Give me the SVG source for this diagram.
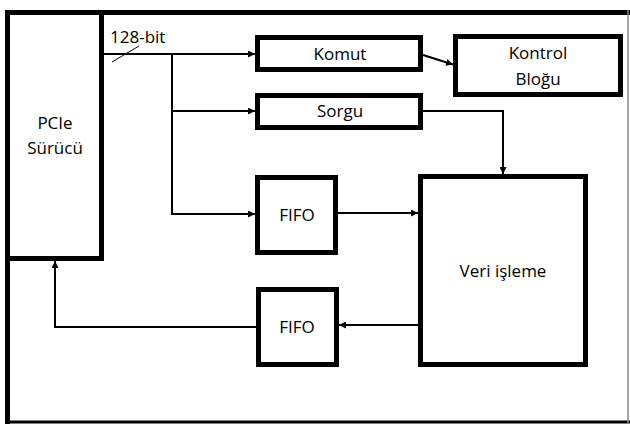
<svg xmlns="http://www.w3.org/2000/svg" width="630" height="425" viewBox="0 0 630 425">
<defs>
<marker id="arr" viewBox="0 0 10 10" refX="10" refY="5" markerWidth="3.5" markerHeight="3.5" orient="auto" markerUnits="strokeWidth">
<path d="M0,0 L10,5 L0,10 z" fill="#000"/>
</marker>
</defs>
<style>
.box{fill:#fff;stroke:#000;stroke-width:5}
.t{font-family:"Open Sans",Lato,sans-serif;font-size:17px;fill:#000;text-anchor:middle}
.c{fill:none;stroke:#000;stroke-width:2}
</style>
<rect width="630" height="425" fill="#fff"/>
<g id="frame">
<line x1="5" y1="12.5" x2="630" y2="12.5" stroke="#000" stroke-width="5"/>
<line x1="7.5" y1="10" x2="7.5" y2="424" stroke="#000" stroke-width="5"/>
<line x1="5" y1="422" x2="630" y2="422" stroke="#000" stroke-width="3"/>
<line x1="628" y1="10" x2="628" y2="424" stroke="#888" stroke-width="1.5"/>
</g>
<g id="pcie">
<rect class="box" x="7.5" y="12.5" width="94" height="246"/>
<text class="t" x="55" y="129">PCIe</text>
<text class="t" x="55" y="154">Sürücü</text>
</g>
<g id="komut">
<rect class="box" x="257.5" y="37.5" width="163" height="32"/>
<text class="t" x="340" y="60">Komut</text>
</g>
<g id="kontrol">
<rect class="box" x="455.5" y="36.5" width="165" height="58"/>
<text class="t" x="538" y="59">Kontrol</text>
<text class="t" x="538" y="85">Bloğu</text>
</g>
<g id="sorgu">
<rect class="box" x="257.5" y="95.5" width="163" height="32"/>
<text class="t" x="340" y="117">Sorgu</text>
</g>
<g id="fifo1">
<rect class="box" x="257.5" y="177.5" width="78" height="75"/>
<text class="t" x="297" y="221">FIFO</text>
</g>
<g id="veri">
<rect class="box" x="420.5" y="176.5" width="165" height="188"/>
<text class="t" x="503" y="277">Veri işleme</text>
</g>
<g id="fifo2">
<rect class="box" x="258.5" y="289.5" width="78" height="75"/>
<text class="t" x="297" y="333">FIFO</text>
</g>
<g id="connectors">
<path class="c" d="M104,54 H255" marker-end="url(#arr)"/>
<line x1="112" y1="62" x2="139" y2="46" stroke="#000" stroke-width="1"/>
<text class="t" x="110" y="43" style="text-anchor:start">128-bit</text>
<path class="c" d="M172,54 V214 H255" marker-end="url(#arr)"/>
<path class="c" d="M172,111 H255" marker-end="url(#arr)"/>
<path class="c" d="M423,55 L453,64.5" marker-end="url(#arr)"/>
<path class="c" d="M423,111 H503 V174" marker-end="url(#arr)"/>
<path class="c" d="M338,213 H418" marker-end="url(#arr)"/>
<path class="c" d="M418,325 H339" marker-end="url(#arr)"/>
<path class="c" d="M256,327 H55 V261" marker-end="url(#arr)"/>
</g>
</svg>
